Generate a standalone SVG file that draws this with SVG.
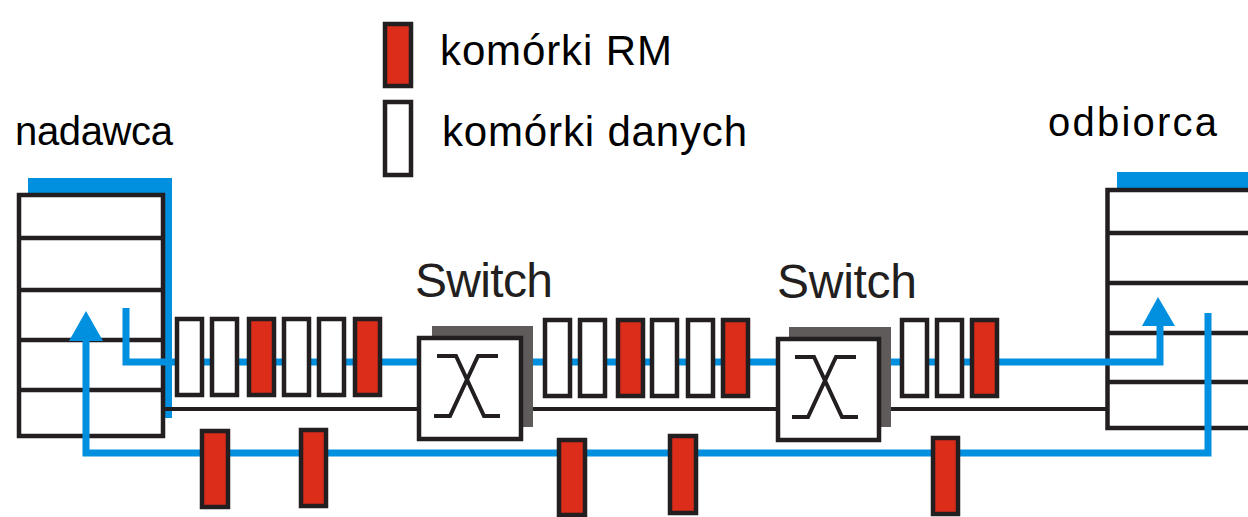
<svg xmlns="http://www.w3.org/2000/svg" width="1248" height="517" viewBox="0 0 1248 517">
<style>
.lbl{font-family:"Liberation Sans","Noto Sans",sans-serif;fill:#000;}
.sw{font-family:"Liberation Sans","DejaVu Sans",sans-serif;fill:#231f20;font-size:48px;}
.box{fill:#fff;stroke:#231f20;stroke-width:4.5;}
.row{stroke:#231f20;stroke-width:4.5;}
.data{fill:#fff;stroke:#231f20;stroke-width:4.5;}
.rm{fill:#dc2c1a;stroke:#231f20;stroke-width:4.5;}
.blue{fill:none;stroke:#0090df;stroke-width:7;}
.bl{fill:#0090df;}
.wire{fill:none;stroke:#231f20;stroke-width:4;}
.shadow{fill:#5f5b5b;}
.xs{fill:none;stroke:#231f20;stroke-width:4;}
</style>
<rect width="1248" height="517" fill="#fff"/>

<g id="legend">
<rect class="rm" x="385" y="24" width="26" height="62"/>
<text class="lbl" x="440" y="65" font-size="42" textLength="232">komórki RM</text>
<rect class="data" x="385" y="102" width="26" height="73"/>
<text class="lbl" x="442" y="146" font-size="42" textLength="305">komórki danych</text>
</g>

<g id="sender">
<text class="lbl" x="15" y="145" font-size="40" textLength="158">nadawca</text>
<rect class="bl" x="28" y="178" width="144" height="16"/>
<rect class="bl" x="165" y="178" width="7" height="240"/>
<rect class="box" x="19" y="195" width="144" height="241"/>
<line class="row" x1="19" y1="238" x2="163" y2="238"/>
<line class="row" x1="19" y1="290" x2="163" y2="290"/>
<line class="row" x1="19" y1="340" x2="163" y2="340"/>
<line class="row" x1="19" y1="390" x2="163" y2="390"/>
</g>

<g id="receiver">
<text class="lbl" x="1048" y="136" font-size="40" textLength="169">odbiorca</text>
<rect class="bl" x="1117" y="172" width="135" height="16"/>
<rect class="box" x="1107.5" y="190" width="200" height="238"/>
<line class="row" x1="1107" y1="233" x2="1250" y2="233"/>
<line class="row" x1="1107" y1="283" x2="1250" y2="283"/>
<line class="row" x1="1107" y1="333" x2="1250" y2="333"/>
<line class="row" x1="1107" y1="382" x2="1250" y2="382"/>
</g>

<g id="connectors">
<path class="blue" d="M126,308 V362 H1160 V322"/>
<polygon class="bl" points="1158,297 1142,326 1175,326"/>
<path class="blue" d="M1208,313 V453 H86 V336"/>
<polygon class="bl" points="86,311 69,341 103,341"/>
<path class="wire" d="M163,409 H419"/>
<path class="wire" d="M523,409 H778"/>
<path class="wire" d="M881,409 H1107"/>
</g>

<g id="switch1">
<text class="sw" x="415" y="297" textLength="138">Switch</text>
<rect class="shadow" x="432" y="326" width="101" height="101"/>
<rect class="box" x="419" y="338" width="102" height="101" stroke-width="4"/>
<path class="xs" d="M437,356 H456 L484,416 H500"/>
<path class="xs" d="M498,356 H478 L450,416 H434"/>
</g>

<g id="switch2">
<text class="sw" x="777" y="298" textLength="140">Switch</text>
<rect class="shadow" x="789" y="327" width="102" height="100"/>
<rect class="box" x="778" y="339" width="101" height="101" stroke-width="4"/>
<path class="xs" d="M795,357 H814 L842,417 H858"/>
<path class="xs" d="M856,357 H836 L808,417 H792"/>
</g>

<g id="cells-forward-1">
<rect class="data" x="177" y="319" width="25" height="76"/>
<rect class="data" x="212" y="319" width="25" height="76"/>
<rect class="rm" x="249" y="319" width="25" height="76"/>
<rect class="data" x="284" y="319" width="25" height="76"/>
<rect class="data" x="319" y="319" width="25" height="76"/>
<rect class="rm" x="355" y="319" width="25" height="76"/>
</g>
<g id="cells-forward-2">
<rect class="data" x="545" y="320" width="25" height="76"/>
<rect class="data" x="580" y="320" width="25" height="76"/>
<rect class="rm" x="618" y="320" width="25" height="76"/>
<rect class="data" x="652" y="320" width="25" height="76"/>
<rect class="data" x="688" y="320" width="25" height="76"/>
<rect class="rm" x="723" y="320" width="25" height="76"/>
</g>
<g id="cells-forward-3">
<rect class="data" x="902" y="320" width="25" height="76"/>
<rect class="data" x="937" y="320" width="25" height="76"/>
<rect class="rm" x="972" y="320" width="25" height="76"/>
</g>
<g id="cells-backward">
<rect class="rm" x="202" y="431" width="26" height="76"/>
<rect class="rm" x="301" y="430" width="25" height="76"/>
<rect class="rm" x="559" y="440" width="26" height="75"/>
<rect class="rm" x="670" y="436" width="26" height="77"/>
<rect class="rm" x="933" y="438" width="25" height="76"/>
</g>
</svg>
